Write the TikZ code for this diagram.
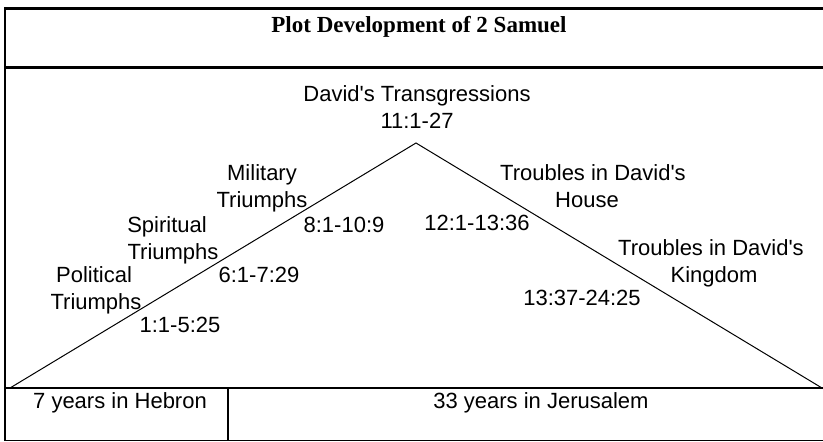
\documentclass[tikz,border=0pt]{standalone}
\usepackage{fontspec}
\setmainfont{Liberation Sans}
\newfontfamily\titlefont{Liberation Serif}
\begin{document}
\begin{tikzpicture}[x=1pt,y=-1pt,
  lbl/.style={inner sep=0pt,anchor=base,font=\fontsize{22}{27}\selectfont},
  ttl/.style={inner sep=0pt,anchor=base,font=\titlefont\bfseries\fontsize{23}{27}\selectfont},
  thick rule/.style={line width=3pt},
  rule/.style={line width=1.6pt},
  slope/.style={line width=1pt}]
\useasboundingbox (0,0) rectangle (823,442);
% frame
\draw[thick rule] (4,8) -- (823,8);
\draw[thick rule] (4,67) -- (823,67);
\draw[line width=2pt] (5,7) -- (5,441);
\draw[rule] (5,388) -- (823,388);
\draw[rule] (5,440.5) -- (823,440.5);
\draw[rule] (228,388) -- (228,440.5);
% triangle
\coordinate (L) at (10,388);
\coordinate (A) at (416,143);
\coordinate (R) at (822,388);
\draw[slope] (L) -- (A) -- (R);
% texts
\node[ttl] (title) at (419,32) {Plot Development of 2 Samuel};
\node[lbl] (dt1) at (417,101) {David\textquotesingle s Transgressions};
\node[lbl] (dt2) at (417,128) {11:1-27};
\node[lbl] (mt1) at (262,180) {Military};
\node[lbl] (mt2) at (262,207) {Triumphs};
\node[lbl] (mtr) at (344,232) {8:1-10:9};
\node[lbl] (st1) at (167,232) {Spiritual};
\node[lbl] (st2) at (173,259) {Triumphs};
\node[lbl] (str) at (259,282) {6:1-7:29};
\node[lbl] (pt1) at (94,282) {Political};
\node[lbl] (pt2) at (96,309) {Triumphs};
\node[lbl] (ptr) at (180,332) {1:1-5:25};
\node[lbl] (th1) at (593,180) {Troubles in David\textquotesingle s};
\node[lbl] (th2) at (587,207) {House};
\node[lbl] (thr) at (477,230) {12:1-13:36};
\node[lbl] (tk1) at (711,255) {Troubles in David\textquotesingle s};
\node[lbl] (tk2) at (714,282) {Kingdom};
\node[lbl] (tkr) at (582,305) {13:37-24:25};
\node[lbl] (heb) at (120,408) {7 years in Hebron};
\node[lbl] (jer) at (541,408) {33 years in Jerusalem};
\end{tikzpicture}
\end{document}
